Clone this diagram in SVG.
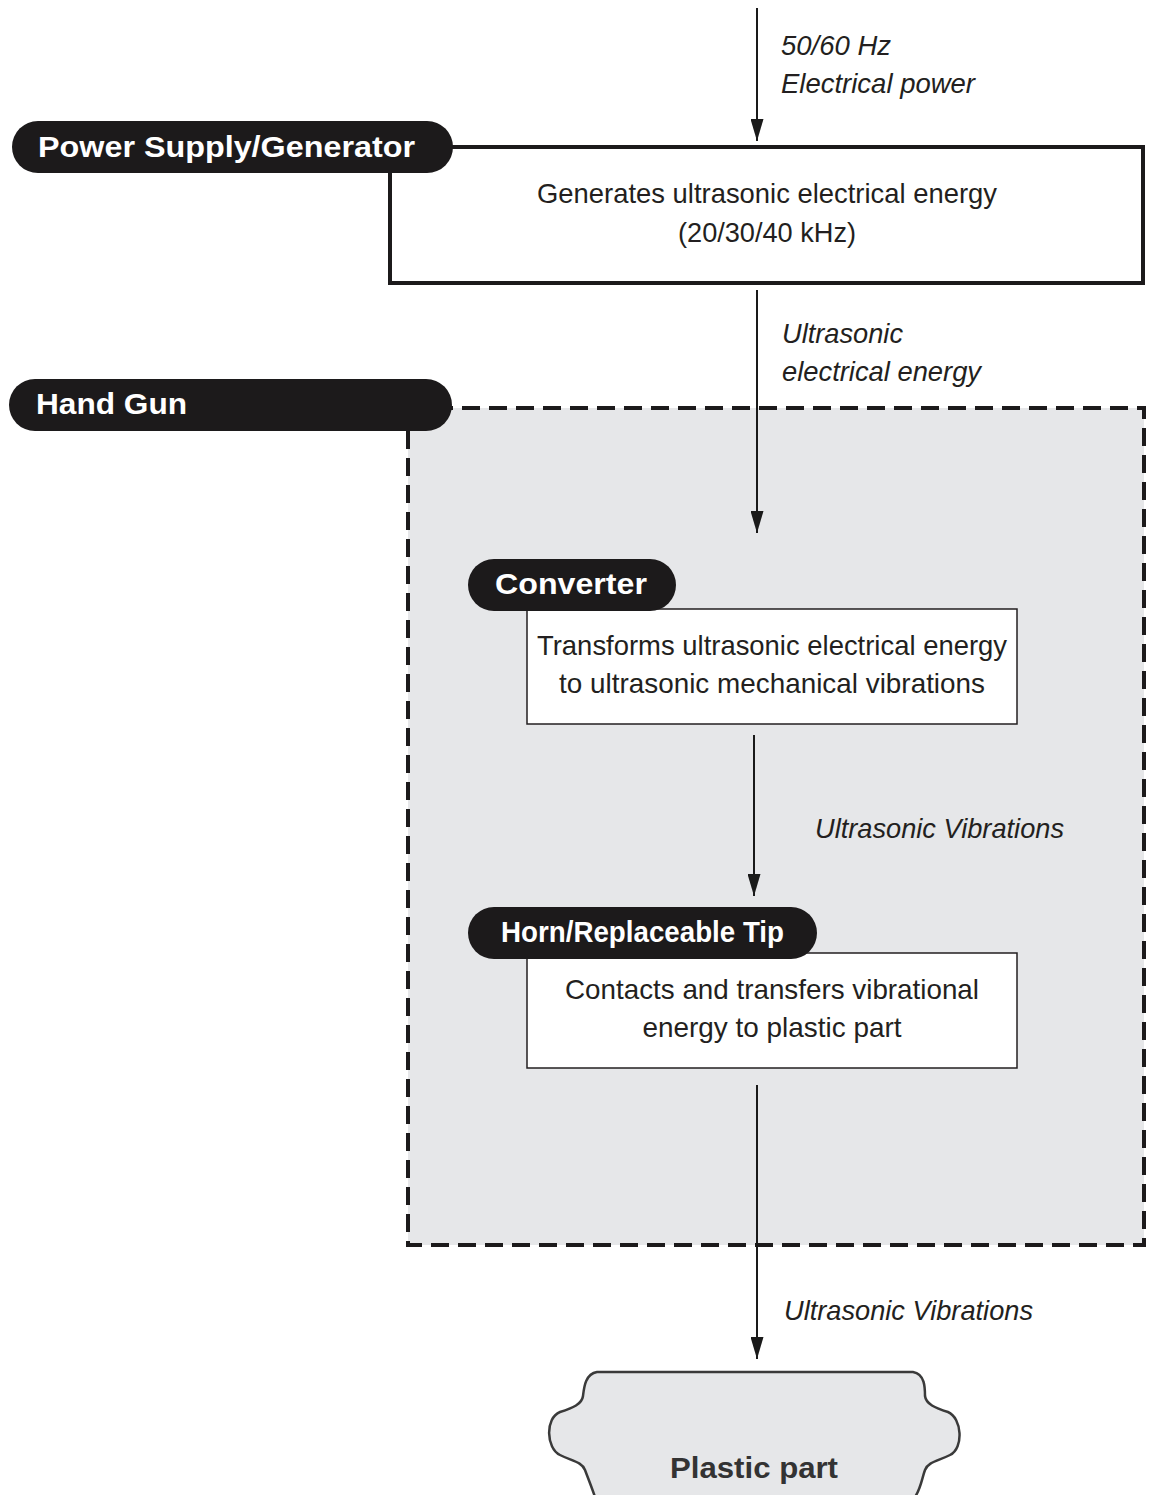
<svg xmlns="http://www.w3.org/2000/svg" width="1150" height="1495" viewBox="0 0 1150 1495">
<defs>
<marker id="ah" markerWidth="22" markerHeight="13" refX="22" refY="6.5" orient="auto" markerUnits="userSpaceOnUse" viewBox="0 0 22 13">
<path d="M0,0 L22,6.5 L0,13 Z" fill="#1a1a1a"/>
</marker>
<style>
.pill{fill:#1c1a1b}
.pt{font-family:"Liberation Sans",Arial,sans-serif;font-weight:bold;font-size:30px;fill:#fff}
.bt{font-family:"Liberation Sans Narrow","Liberation Sans",Arial,sans-serif;font-size:28px;fill:#231f20;text-anchor:middle}
.lt{font-family:"Liberation Sans Narrow","Liberation Sans",Arial,sans-serif;font-style:italic;font-size:28px;fill:#231f20}
.conn{stroke:#1a1a1a;stroke-width:2;fill:none;marker-end:url(#ah)}
</style>
</defs>
<rect width="1150" height="1495" fill="#fff"/>

<g id="handgun">
<rect x="408" y="408" width="736" height="837" fill="#e6e7e9" stroke="#1c1a1b" stroke-width="4" stroke-dasharray="18 9"/>
<rect class="pill" x="9" y="379" width="443" height="52" rx="26"/>
<text class="pt" x="36" y="414" textLength="151" lengthAdjust="spacingAndGlyphs">Hand Gun</text>
</g>

<g id="connectors">
<line class="conn" x1="757" y1="8" x2="757" y2="141"/>
<line class="conn" x1="757" y1="290" x2="757" y2="533"/>
<line class="conn" x1="754" y1="735" x2="754" y2="896"/>
<line class="conn" x1="757" y1="1085" x2="757" y2="1359"/>
</g>

<g id="labels">
<text class="lt" x="781" y="55" textLength="110" lengthAdjust="spacingAndGlyphs">50/60 Hz</text>
<text class="lt" x="781" y="93" textLength="194" lengthAdjust="spacingAndGlyphs">Electrical power</text>
<text class="lt" x="782" y="343" textLength="121" lengthAdjust="spacingAndGlyphs">Ultrasonic</text>
<text class="lt" x="782" y="381" textLength="199" lengthAdjust="spacingAndGlyphs">electrical energy</text>
<text class="lt" x="815" y="838" textLength="249" lengthAdjust="spacingAndGlyphs">Ultrasonic Vibrations</text>
<text class="lt" x="784" y="1320" textLength="249" lengthAdjust="spacingAndGlyphs">Ultrasonic Vibrations</text>
</g>

<g id="power-supply">
<rect x="390" y="147" width="753" height="136" fill="#fff" stroke="#1c1a1b" stroke-width="4"/>
<rect class="pill" x="12" y="121" width="441" height="52" rx="26"/>
<text class="pt" x="38" y="157" textLength="377" lengthAdjust="spacingAndGlyphs">Power Supply/Generator</text>
<text class="bt" x="767" y="203" textLength="460" lengthAdjust="spacingAndGlyphs">Generates ultrasonic electrical energy</text>
<text class="bt" x="767" y="242" textLength="178" lengthAdjust="spacingAndGlyphs">(20/30/40 kHz)</text>
</g>

<g id="converter">
<rect x="527" y="609" width="490" height="115" fill="#fff" stroke="#231f20" stroke-width="1.5"/>
<rect class="pill" x="468" y="559" width="208" height="52" rx="26"/>
<text class="pt" x="495" y="594" textLength="152" lengthAdjust="spacingAndGlyphs">Converter</text>
<text class="bt" x="772" y="655" textLength="470" lengthAdjust="spacingAndGlyphs">Transforms ultrasonic electrical energy</text>
<text class="bt" x="772" y="693" textLength="426" lengthAdjust="spacingAndGlyphs">to ultrasonic mechanical vibrations</text>
</g>

<g id="horn">
<rect x="527" y="953" width="490" height="115" fill="#fff" stroke="#231f20" stroke-width="1.5"/>
<rect class="pill" x="468" y="907" width="349" height="52" rx="26"/>
<text class="pt" x="501" y="942" textLength="283" lengthAdjust="spacingAndGlyphs">Horn/Replaceable Tip</text>
<text class="bt" x="772" y="999" textLength="414" lengthAdjust="spacingAndGlyphs">Contacts and transfers vibrational</text>
<text class="bt" x="772" y="1037" textLength="259" lengthAdjust="spacingAndGlyphs">energy to plastic part</text>
</g>

<g id="plastic-part">
<path d="M597,1372 L913,1372 C925,1374 925,1388 925,1396 C926,1404 935,1408 948,1412 C962,1418 964,1448 950,1455 C938,1461 928,1462 925,1470 C922,1478 921,1488 915,1497 L595,1497 C592,1488 588,1478 585,1470 C582,1462 572,1461 560,1455 C546,1448 545,1418 560,1412 C573,1408 582,1404 583,1396 C584,1388 585,1374 597,1372 Z" fill="#e6e7e9" stroke="#3a3a3a" stroke-width="2.5"/>
<text x="670" y="1478" font-family="Liberation Sans,Arial,sans-serif" font-weight="bold" font-size="30" fill="#333" textLength="168" lengthAdjust="spacingAndGlyphs">Plastic part</text>
</g>
</svg>
